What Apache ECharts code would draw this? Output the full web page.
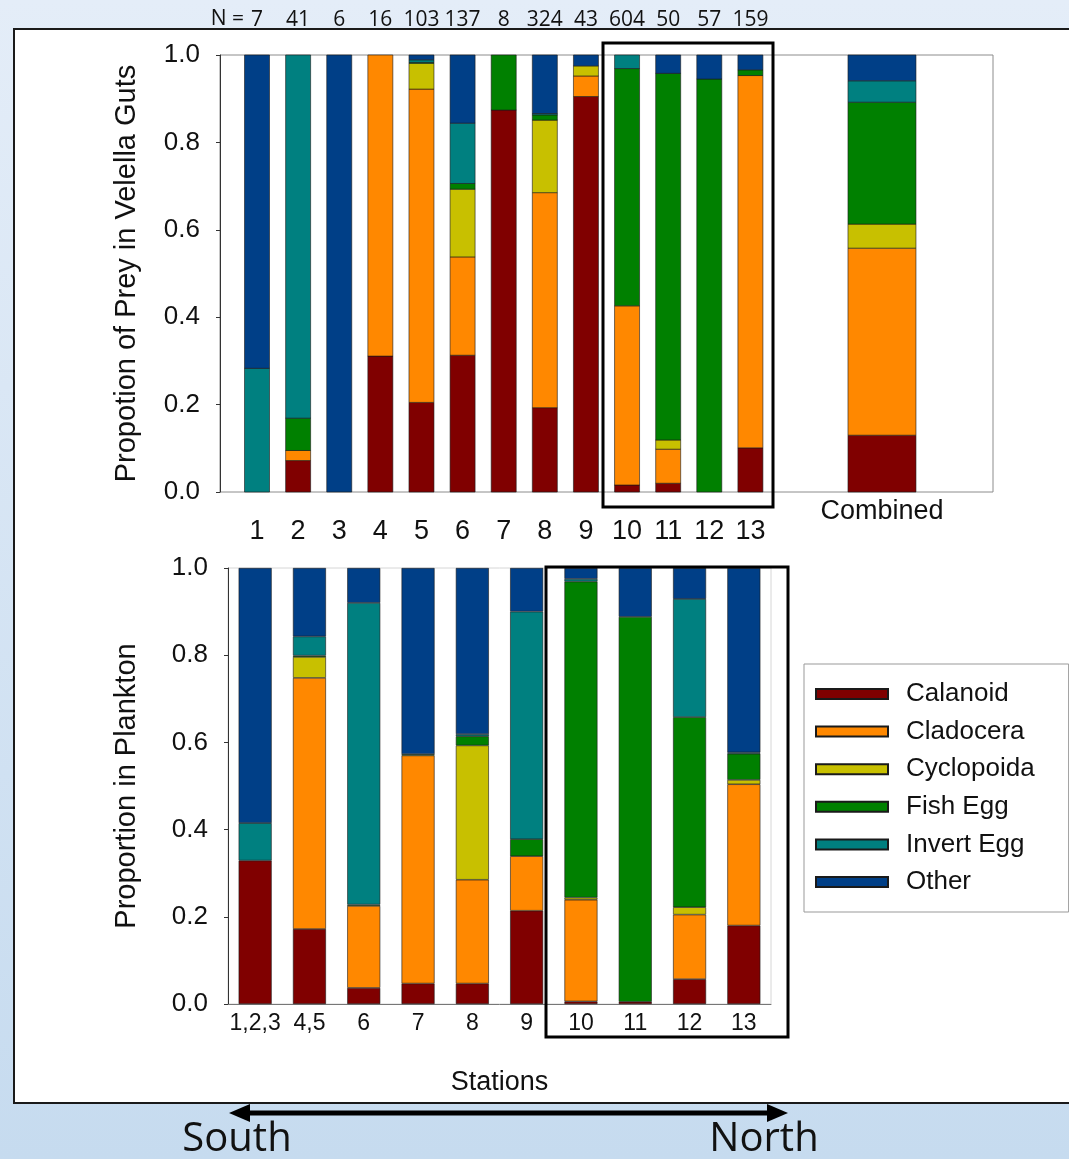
<!DOCTYPE html>
<html>
<head>
<meta charset="utf-8">
<script src="https://cdn.jsdelivr.net/npm/echarts@6/dist/echarts.min.js"></script>
<style>
  html, body { margin: 0; padding: 0; }
  body {
    width: 1069px; height: 1159px; overflow: hidden;
    background: linear-gradient(180deg, #e4edf8 0%, #c6dbef 100%);
  }
  #chart { width: 1069px; height: 1159px; }
</style>
</head>
<body>
<div id="chart"></div>
<script>
// prey groups + colours (shared by both panels)
const preyTypes = ['Calanoid', 'Cladocera', 'Cyclopoida', 'Fish Egg', 'Invert Egg', 'Other'];
const preyColors = ['#800000', '#ff8800', '#c8c000', '#008000', '#008080', '#003f87'];

// top panel: velella gut contents per station
const gutStations = ['1', '2', '3', '4', '5', '6', '7', '8', '9', '10', '11', '12', '13'];
const gutN = [7, 41, 6, 16, 103, 137, 8, 324, 43, 604, 50, 57, 159];
const gutCalanoid   = [0, 0.072, 0, 0.311, 0.205, 0.313, 0.874, 0.193, 0.905, 0.016, 0.020, 0, 0.101];
const gutCladocera  = [0, 0.023, 0, 0.689, 0.717, 0.225, 0, 0.492, 0.047, 0.410, 0.078, 0, 0.852];
const gutCyclopoida = [0, 0, 0, 0, 0.059, 0.155, 0, 0.166, 0.023, 0, 0.021, 0, 0];
const gutFishEgg    = [0, 0.074, 0, 0, 0.002, 0.013, 0.126, 0.012, 0, 0.543, 0.839, 0.945, 0.013];
const gutInvertEgg  = [0.283, 0.831, 0, 0, 0.006, 0.138, 0, 0.003, 0, 0.031, 0, 0, 0];
const gutOther      = [0.717, 0, 1.0, 0, 0.011, 0.156, 0, 0.134, 0.025, 0, 0.042, 0.055, 0.034];

// all stations pooled
const combinedLabel = 'Combined';
const combined = [0.130, 0.428, 0.055, 0.279, 0.049, 0.059];

// bottom panel: plankton tows
const plankStations = ['1,2,3', '4,5', '6', '7', '8', '9', '10', '11', '12', '13'];
const plankCalanoid   = [0.329, 0.172, 0.037, 0.047, 0.047, 0.214, 0.006, 0.005, 0.057, 0.180];
const plankCladocera  = [0, 0.576, 0.188, 0.523, 0.238, 0.125, 0.233, 0, 0.148, 0.324];
const plankCyclopoida = [0, 0.048, 0, 0, 0.308, 0, 0.005, 0, 0.017, 0.010];
const plankFishEgg    = [0, 0.003, 0.003, 0.003, 0.021, 0.039, 0.725, 0.883, 0.436, 0.060];
const plankInvertEgg  = [0.086, 0.044, 0.692, 0, 0.005, 0.522, 0.006, 0, 0.271, 0.003];
const plankOther      = [0.585, 0.157, 0.080, 0.427, 0.381, 0.100, 0.025, 0.112, 0.071, 0.423];

const yTicks = [0, 0.2, 0.4, 0.6, 0.8, 1.0];

const gutSeries = [gutCalanoid, gutCladocera, gutCyclopoida, gutFishEgg, gutInvertEgg, gutOther];
const plankSeries = [plankCalanoid, plankCladocera, plankCyclopoida, plankFishEgg, plankInvertEgg, plankOther];

const FONT = 'Liberation Sans';
const COMBINED_X = 16.2;   // where the pooled bar sits on the top x scale
const X_MIN = 0.1, X_MAX = 18.9;
const BORDER = '#1a1a1a';

const stationX = gutStations.map((s, i) => i + 1);
const nz = v => (v === 0 ? null : v);

// top panel sits on a value x scale, so stack by hand: rows of [x, base, top, barWidth]
function stackRows(cols, xs, width) {
  const base = xs.map(() => 0);
  return cols.map(col => {
    const rows = [];
    col.forEach((v, i) => {
      if (v > 0) rows.push([xs[i], base[i], base[i] + v, width]);
      base[i] += v;
    });
    return rows;
  });
}
const gutRows = stackRows(gutSeries, stationX, 25);
const combRows = stackRows(combined.map(v => [v]), [COMBINED_X], 68);

function renderSeg(params, api) {
  const x = api.value(0);
  const p0 = api.coord([x, api.value(1)]);
  const p1 = api.coord([x, api.value(2)]);
  const w = api.value(3);
  return {
    type: 'rect',
    shape: { x: p0[0] - w / 2, y: p1[1], width: w, height: p0[1] - p1[1] },
    style: { fill: api.visual('color'), stroke: BORDER, lineWidth: 0.6 }
  };
}

const series = [];
preyTypes.forEach((name, k) => {
  series.push({
    name, type: 'custom', xAxisIndex: 0, yAxisIndex: 0,
    itemStyle: { color: preyColors[k], borderColor: BORDER, borderWidth: 0.6 },
    encode: { x: 0, y: [1, 2] },
    renderItem: renderSeg,
    data: gutRows[k].concat(combRows[k])
  });
});
preyTypes.forEach((name, k) => {
  series.push({
    name, type: 'bar', stack: 'plank', xAxisIndex: 3, yAxisIndex: 1,
    barWidth: 33,
    itemStyle: { color: preyColors[k], borderColor: BORDER, borderWidth: 0.6 },
    data: plankSeries[k].map(nz)
  });
});

const yAxisBase = (gridIndex, name, nameGap) => ({
  type: 'value', gridIndex, min: 0, max: 1, interval: 0.2,
  name, nameLocation: 'middle', nameGap,
  nameTextStyle: { fontSize: 29, fontFamily: FONT, color: '#111' },
  axisLine: { show: true, lineStyle: { color: '#333', width: 1 } },
  axisTick: { show: true, length: 4, lineStyle: { color: '#333' } },
  splitLine: { show: false },
  axisLabel: {
    fontSize: 26, fontFamily: FONT, color: '#111', margin: 20,
    formatter: v => (yTicks.includes(+v.toFixed(1)) ? v.toFixed(1) : '')
  }
});

const option = {
  animation: false,
  textStyle: { fontFamily: FONT },
  grid: [
    { left: 220, top: 55, width: 773, height: 437, show: true, borderColor: '#8c8c8c', borderWidth: 1, backgroundColor: 'transparent' },
    { left: 228, top: 568, width: 543, height: 436, show: true, borderColor: '#d6d6d6', borderWidth: 1, backgroundColor: 'transparent' }
  ],
  xAxis: [
    { // station numbers, top panel
      type: 'value', gridIndex: 0, min: X_MIN, max: X_MAX, position: 'bottom',
      axisLine: { show: false }, axisTick: { show: false }, splitLine: { show: false },
      axisLabel: {
        customValues: stationX, margin: 26, fontSize: 27, fontFamily: FONT, color: '#111',
        formatter: v => gutStations[Math.round(v) - 1] || ''
      }
    },
    { // pooled bar label
      type: 'value', gridIndex: 0, min: X_MIN, max: X_MAX, position: 'bottom',
      axisLine: { show: false }, axisTick: { show: false }, splitLine: { show: false },
      axisLabel: {
        customValues: [COMBINED_X], margin: 6, fontSize: 27, fontFamily: FONT, color: '#111',
        formatter: () => combinedLabel
      }
    },
    { // sample sizes along the top
      type: 'value', gridIndex: 0, min: X_MIN, max: X_MAX, position: 'top',
      axisLine: { show: false }, axisTick: { show: false }, splitLine: { show: false },
      axisLabel: {
        customValues: stationX, margin: 24, fontSize: 21, fontFamily: 'Open Sans', color: '#111',
        formatter: v => String(gutN[Math.round(v) - 1])
      }
    },
    { // plankton stations
      type: 'category', gridIndex: 1, data: plankStations,
      name: 'Stations', nameLocation: 'middle', nameGap: 65,
      nameTextStyle: { fontSize: 27, fontFamily: FONT, color: '#111' },
      axisLine: { show: true, lineStyle: { color: '#777' } },
      axisTick: { show: false },
      axisLabel: { margin: 8, fontSize: 23, fontFamily: FONT, color: '#111', interval: 0 }
    }
  ],
  yAxis: [
    yAxisBase(0, 'Propotion of Prey in Velella Guts', 79),
    yAxisBase(1, 'Proportion in Plankton', 87)
  ],
  legend: {
    data: preyTypes, orient: 'vertical', left: 804, top: 664,
    icon: 'rect', itemWidth: 72, itemHeight: 10, itemGap: 11.6,
    padding: [17, 34, 17, 11],
    backgroundColor: '#fff', borderColor: '#999', borderWidth: 1,
    selectedMode: false,
    textStyle: { fontSize: 26, fontFamily: FONT, color: '#111', padding: [0, 0, 0, 13] }
  },
  graphic: [
    { type: 'rect', z: -10, shape: { x: 14, y: 29, width: 1100, height: 1074 },
      style: { fill: '#fff', stroke: '#1a1a1a', lineWidth: 2 } },
    { type: 'text', x: 244, y: 19, style: { text: 'N =', font: '21px "Open Sans"', fill: '#111', align: 'right', verticalAlign: 'middle' } },
    // highlight boxes around stations 10-13
    { type: 'rect', z: 100, shape: { x: 603, y: 43, width: 170, height: 464 },
      style: { fill: 'none', stroke: '#000', lineWidth: 3 } },
    { type: 'rect', z: 100, shape: { x: 546, y: 567, width: 242, height: 470 },
      style: { fill: 'none', stroke: '#000', lineWidth: 3 } },
    // south-north arrow
    { type: 'line', shape: { x1: 244, y1: 1113, x2: 773, y2: 1113 }, style: { stroke: '#000', lineWidth: 5 } },
    { type: 'polygon', shape: { points: [[229, 1113], [250, 1104], [250, 1122]] }, style: { fill: '#000' } },
    { type: 'polygon', shape: { points: [[788, 1113], [767, 1104], [767, 1122]] }, style: { fill: '#000' } },
    { type: 'text', x: 237, y: 1140, style: { text: 'South', font: '40px "Open Sans"', fill: '#111', align: 'center', verticalAlign: 'middle' } },
    { type: 'text', x: 764, y: 1140, style: { text: 'North', font: '40px "Open Sans"', fill: '#111', align: 'center', verticalAlign: 'middle' } }
  ],
  series
};

const chart = echarts.init(document.getElementById('chart'), null, { renderer: 'canvas' });
chart.setOption(option);
</script>
</body>
</html>
